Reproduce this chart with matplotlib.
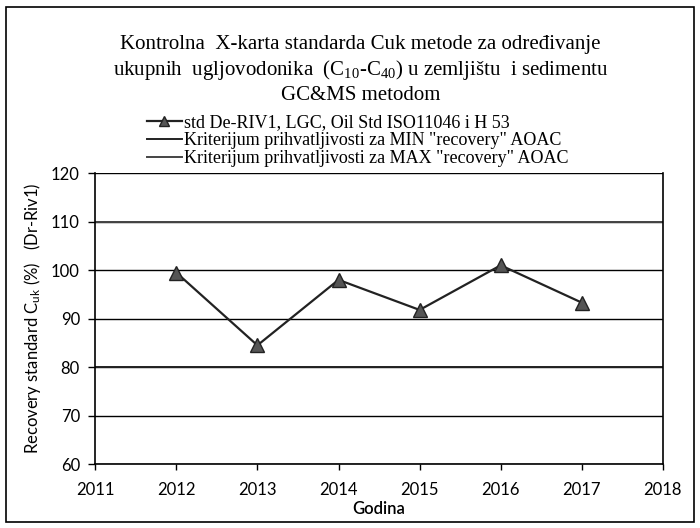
import matplotlib
matplotlib.use("Agg")
import matplotlib.pyplot as plt
from matplotlib.patches import Rectangle

years = [2012, 2013, 2014, 2015, 2016, 2017]
recovery = [99.5, 84.5, 98.0, 91.8, 101.0, 93.3]
min_crit = 80
max_crit = 110
x_ticks = [2011, 2012, 2013, 2014, 2015, 2016, 2017, 2018]
y_ticks = [60, 70, 80, 90, 100, 110, 120]

title_lines = [
    "Kontrolna  X-karta standarda Cuk metode za određivanje",
    r"ukupnih  ugljovodonika  (C$\mathregular{_{10}}$-C$\mathregular{_{40}}$) u zemljištu  i sedimentu",
    "GC&MS metodom",
]
legend_labels = [
    "std De-RIV1, LGC, Oil Std ISO11046 i H 53",
    'Kriterijum prihvatljivosti za MIN "recovery" AOAC',
    'Kriterijum prihvatljivosti za MAX "recovery" AOAC',
]

fig = plt.figure(figsize=(7, 5.28), dpi=100)
ax = fig.add_axes([0.136, 0.121, 0.811, 0.551])

sans = "Lato"
serif = "Liberation Serif"

for y in y_ticks:
    ax.axhline(y, color="black", lw=1.0, zorder=1)
h2 = ax.axhline(min_crit, color="#222222", lw=1.4, zorder=2)
h3 = ax.axhline(max_crit, color="#444444", lw=1.4, zorder=2)
h1, = ax.plot(years, recovery, color="#222222", lw=1.6, marker="^",
              markersize=10, markerfacecolor="#555555", markeredgecolor="#222222", zorder=3)

ax.set_xlim(2011, 2018)
ax.set_ylim(60, 120)
ax.set_xticks(x_ticks)
ax.set_yticks(y_ticks)
ax.tick_params(axis="y", direction="out", length=5, width=1, labelsize=12, pad=6)
ax.tick_params(axis="x", direction="out", length=4, width=1, labelsize=12, pad=9)
for lab in ax.get_xticklabels() + ax.get_yticklabels():
    lab.set_fontfamily(sans)
ax.spines["top"].set_visible(False)
for s in ["left", "right", "bottom"]:
    ax.spines[s].set_linewidth(1.2)

ax.set_xlabel("Godina", fontfamily=sans, fontsize=12, fontweight="semibold", labelpad=2)
ax.set_ylabel(r"Recovery standard C$\mathregular{_{uk}}$ (%)   (Dr-Riv1)", fontfamily=sans,
              fontsize=12, labelpad=6)

fig.text(0.515, 0.915, title_lines[0], ha="center", va="center", fontfamily=serif, fontsize=15)
fig.text(0.515, 0.867, title_lines[1], ha="center", va="center", fontfamily=serif, fontsize=15)
fig.text(0.515, 0.819, title_lines[2], ha="center", va="center", fontfamily=serif, fontsize=15)

fig.legend([h1, h2, h3], legend_labels, loc="upper left", bbox_to_anchor=(0.2, 0.797),
           frameon=False, prop={"family": serif, "size": 13}, handlelength=1.9,
           handletextpad=0.15, labelspacing=0.05, borderaxespad=0, markerscale=0.7)

fig.patches.append(Rectangle((0.009, 0.011), 0.982, 0.975, transform=fig.transFigure,
                             fill=False, edgecolor="black", lw=1.2))

fig.savefig("out.png", dpi=100)
